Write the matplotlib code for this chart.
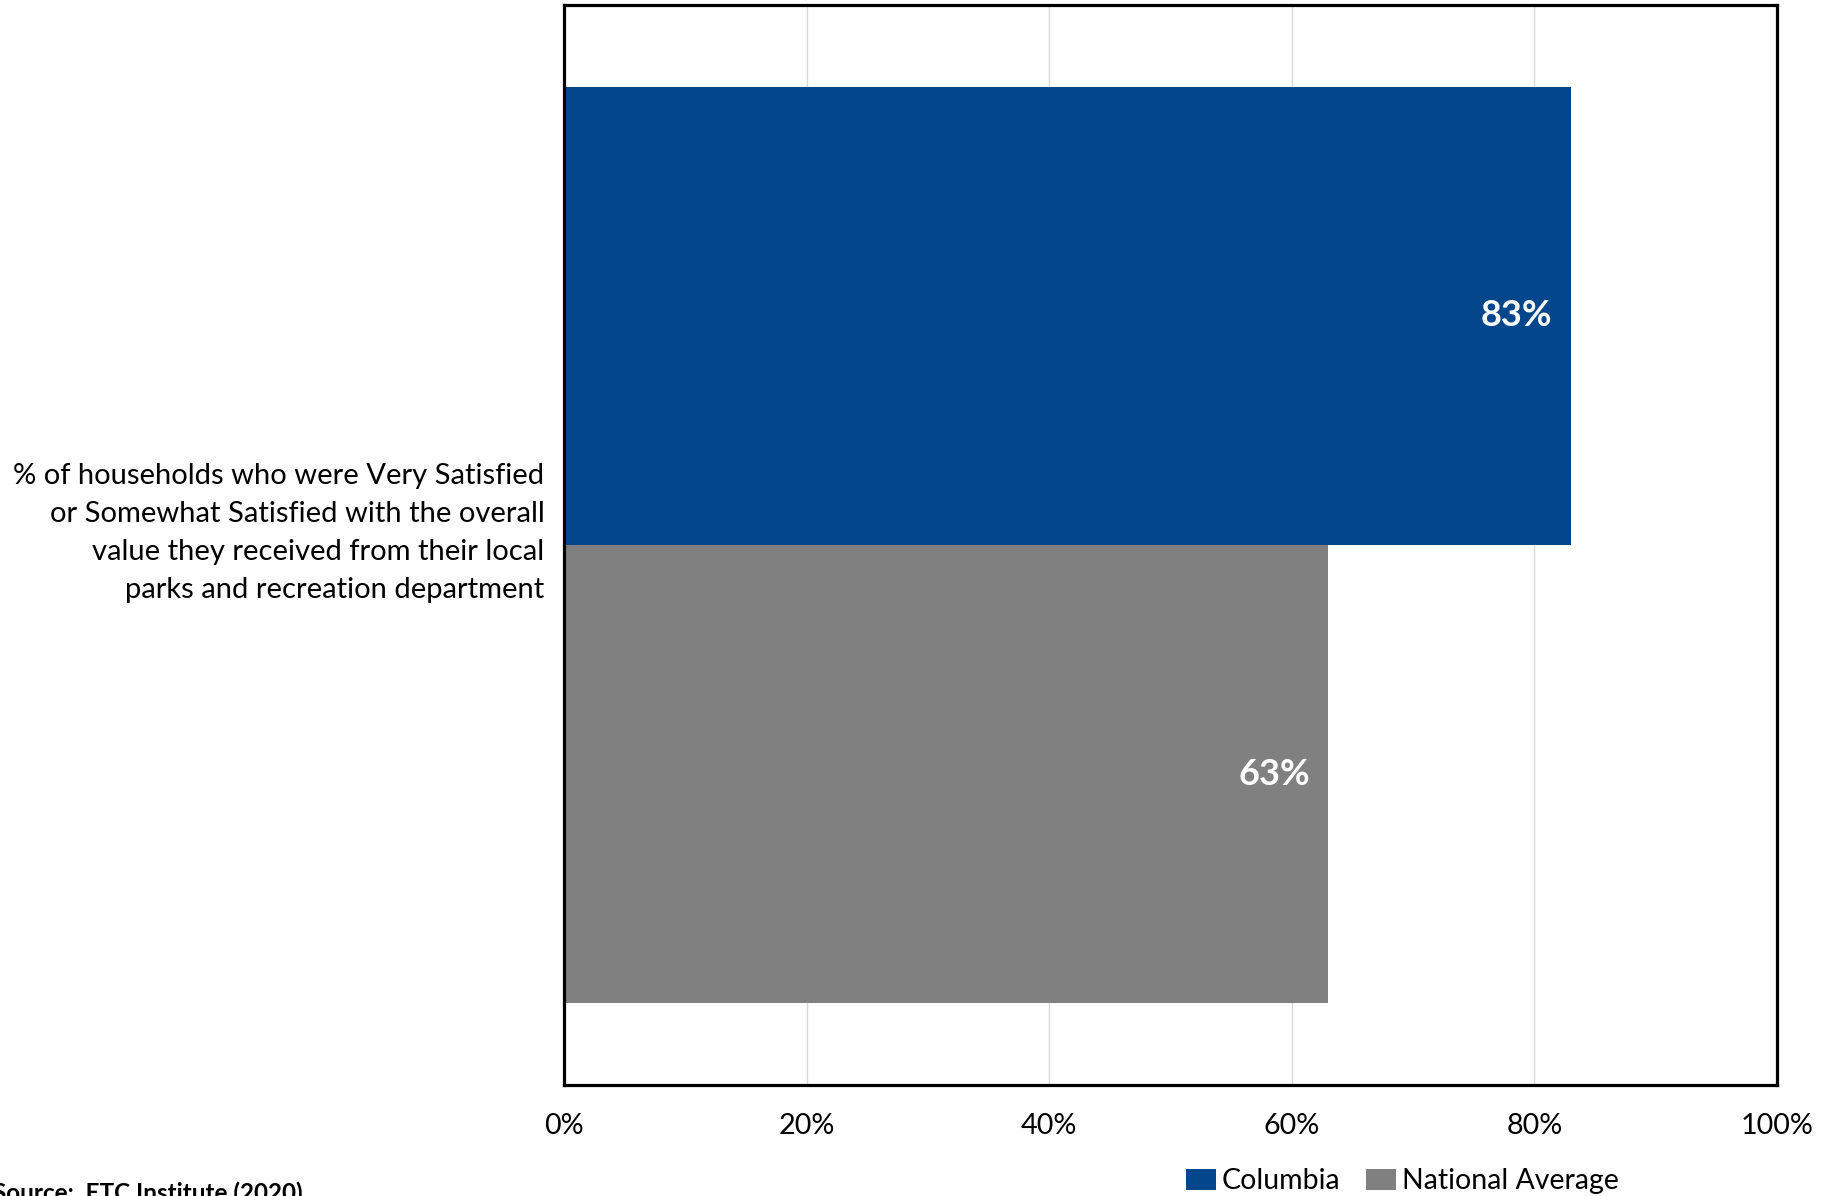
import matplotlib
matplotlib.use("Agg")
import matplotlib.pyplot as plt
import matplotlib.transforms as mtransforms

# data
category = ("% of households who were Very Satisfied\n"
            "or Somewhat Satisfied with the overall\n"
            "value they received from their local\n"
            "parks and recreation department")
series = ["Columbia", "National Average"]
values = [83, 63]
colors = ["#03468b", "#808080"]
xticks = [0, 20, 40, 60, 80, 100]
xtick_labels = ["0%", "20%", "40%", "60%", "80%", "100%"]
source_note = "Source:  ETC Institute (2020)"

plt.rcParams['font.family'] = ['Lato', 'DejaVu Sans']

fig = plt.figure(figsize=(18.33, 11.96), dpi=100)
ax = fig.add_axes([0.3077, 0.0928, 0.6617, 0.9030])

bar_h = 0.4245
offsets = [bar_h / 2, -bar_h / 2]
for name, val, col, off in zip(series, values, colors, offsets):
    ax.barh(off, val, height=bar_h, color=col, label=name, zorder=2)
    ax.text(val - 1.5, off, f"{val}%", color="white", fontsize=26,
            fontweight="bold", ha="right", va="center", zorder=3)

ax.set_xlim(0, 100)
ax.set_ylim(-0.5, 0.5)
ax.set_xticks(xticks)
ax.set_xticklabels(xtick_labels, fontsize=20.7)
ax.set_yticks([0])
ax.set_yticklabels([category], fontsize=21, ha="right", linespacing=1.56)
ax.tick_params(axis="both", length=0)
ax.tick_params(axis="x", pad=20)
ax.tick_params(axis="y", pad=14)
# move the category label slightly up like in the original
for lbl in ax.get_yticklabels():
    lbl.set_transform(lbl.get_transform() +
                      mtransforms.ScaledTranslation(0, 0.205, fig.dpi_scale_trans))

ax.grid(axis="x", color="#d9d9d9", linewidth=1.0, zorder=0)
ax.set_axisbelow(True)
for sp in ax.spines.values():
    sp.set_linewidth(2.3)
    sp.set_color("black")

ax.legend(loc="lower center", bbox_to_anchor=(0.765, -0.008),
          bbox_transform=fig.transFigure, ncol=2, frameon=False,
          fontsize=20.5, handlelength=1.05, handleheight=0.75,
          handletextpad=0.2, columnspacing=0.9, borderaxespad=0)

fig.text(-0.004, -0.004, source_note, fontsize=17.5, fontweight="bold",
         ha="left", va="baseline")

fig.savefig("out.png", dpi=100)
